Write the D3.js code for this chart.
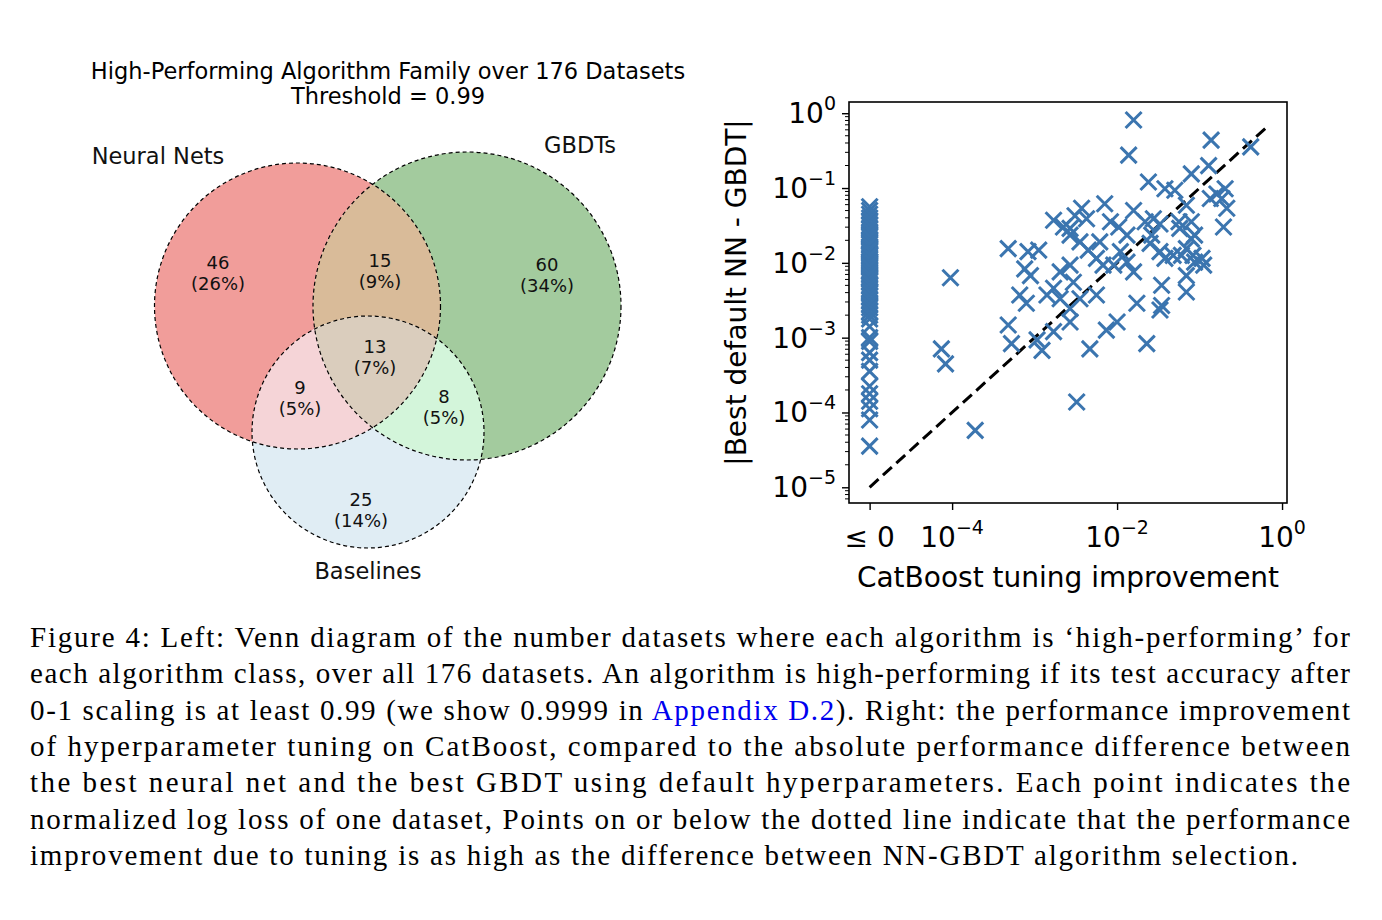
<!DOCTYPE html>
<html><head><meta charset="utf-8">
<script src="https://cdn.jsdelivr.net/npm/d3@7"></script>
<style>body{margin:0;background:#fff}</style>
</head><body>
<svg id="fig" width="1382" height="920"></svg>
<script>
// venn data
var vennSets = ["Neural Nets", "GBDTs", "Baselines"];
var vennRegions = ["100", "010", "001", "110", "101", "011", "111"];
var vennCounts = [46, 60, 25, 15, 9, 8, 13];
var vennPct = ["26%", "34%", "14%", "9%", "5%", "5%", "7%"];
var vennColors = ["#f19d9a", "#a3cb9e", "#e0edf4", "#d9bb99", "#f5d4d7", "#d3f5da", "#dacdbd"];

// scatter data: log10 values; x = -5 means "≤ 0"
var zeroColY = [-1.25,-1.3,-1.35,-1.4,-1.45,-1.5,-1.55,-1.6,-1.62,-1.65,-1.7,-1.72,-1.75,-1.8,-1.82,-1.85,-1.88,-1.9,-1.95,-1.98,-2.0,-2.02,-2.05,-2.1,-2.12,-2.15,-2.2,-2.22,-2.25,-2.3,-2.35,-2.38,-2.4,-2.45,-2.5,-2.55,-2.6,-2.65,-2.7,-2.75,-2.85,-3.0,-3.05,-3.2,-3.3,-3.45,-3.65,-3.75,-3.85,-3.95,-4.1,-4.45];
var tunedX = [-1.80,-1.86,-0.86,-0.38,-0.89,-1.10,-1.62,-1.42,-1.30,-0.69,-0.73,-0.87,-0.67,-0.71,-1.16,-1.10,-1.24,-1.10,-1.16,-1.08,-0.97,-0.95,-1.16,-1.16,-1.46,-1.46,-1.48,-1.76,-1.64,-2.00,-2.13,-2.33,-2.49,-3.72,-4.02,-4.13,-4.08,-3.32,-3.32,-3.28,-3.12,-3.05,-3.18,-3.10,-2.95,-2.97,-2.91,-2.77,-2.65,-2.57,-2.45,-2.43,-2.37,-2.15,-2.08,-1.98,-1.88,-1.80,-1.66,-1.58,-1.56,-1.60,-1.48,-1.42,-1.32,-2.35,-2.25,-2.17,-2.57,-2.69,-2.53,-2.77,-2.85,-2.69,-2.45,-2.25,-2.57,-2.57,-2.77,-2.04,-1.88,-1.80,-1.96,-2.21,-1.22,-1.06,-1.48,-1.25,-1.06,-2.51,-2.57,-0.79,-3.08];
var tunedY = [-0.09,-0.56,-0.36,-0.45,-0.70,-0.81,-0.92,-1.01,-1.03,-1.01,-1.14,-1.14,-1.27,-1.52,-1.23,-1.45,-1.54,-1.68,-1.81,-1.90,-1.94,-2.03,-2.17,-2.39,-2.30,-2.57,-2.63,-2.54,-3.08,-2.79,-2.90,-3.15,-3.86,-4.24,-2.20,-3.15,-3.35,-1.81,-2.83,-3.08,-2.08,-2.17,-2.43,-2.54,-1.83,-3.03,-3.17,-1.43,-1.52,-1.63,-1.72,-1.27,-1.41,-1.21,-1.45,-1.52,-1.63,-1.30,-1.45,-1.63,-1.41,-1.74,-1.85,-1.94,-1.90,-1.83,-1.94,-2.03,-2.03,-2.12,-2.26,-2.34,-2.43,-2.48,-2.48,-2.43,-2.61,-2.79,-2.92,-2.03,-1.99,-2.12,-1.85,-1.72,-1.90,-1.99,-1.48,-1.45,-1.63,-1.37,-1.54,-1.08,-1.85];
var xTicks = [-5, -4, -2, 0];
var yTicks = [0, -1, -2, -3, -4, -5];

var svg = d3.select("#fig");
var sans = "DejaVu Sans";

// ---------- Venn ----------
var circles = [{cx:297.5, cy:306, r:143}, {cx:467, cy:306, r:154}, {cx:368, cy:432, r:116}];
var labelPos = {"100":[218,269], "010":[547,271], "001":[361,506], "110":[380,267], "101":[300,394], "011":[444,403], "111":[375,353]};
var defs = svg.append("defs");
vennRegions.forEach(function(code, k){
  var clip = null;
  var ins = [], outs = [];
  code.split("").forEach(function(c, i){ (c == "1" ? ins : outs).push(i); });
  ins.forEach(function(i, j){
    if (j == 0) return;
    var id = "clip-" + code + "-" + j;
    var cp = defs.append("clipPath").attr("id", id);
    if (clip) cp.attr("clip-path", "url(#" + clip + ")");
    cp.append("circle").attr("cx", circles[i].cx).attr("cy", circles[i].cy).attr("r", circles[i].r);
    clip = id;
  });
  var mid = "mask-" + code;
  var m = defs.append("mask").attr("id", mid);
  m.append("rect").attr("width", 1382).attr("height", 920).attr("fill", "#fff");
  outs.forEach(function(i){
    m.append("circle").attr("cx", circles[i].cx).attr("cy", circles[i].cy).attr("r", circles[i].r).attr("fill", "#000");
  });
  var g = svg.append("g").attr("mask", "url(#" + mid + ")");
  if (clip) g.attr("clip-path", "url(#" + clip + ")");
  var c0 = circles[ins[0]];
  g.append("circle").attr("cx", c0.cx).attr("cy", c0.cy).attr("r", c0.r).attr("fill", vennColors[k]);
});
svg.selectAll(".vc").data(circles).enter().append("circle")
  .attr("cx", d => d.cx).attr("cy", d => d.cy).attr("r", d => d.r)
  .attr("fill", "none").attr("stroke", "#000").attr("stroke-width", 1.2).attr("stroke-dasharray", "4,3");
vennRegions.forEach(function(code, k){
  var p = labelPos[code];
  var t = svg.append("text").attr("x", p[0]).attr("y", p[1]).attr("text-anchor", "middle")
    .attr("font-family", sans).attr("font-size", 18).attr("fill", "#111");
  t.append("tspan").attr("x", p[0]).attr("dy", 0).text(vennCounts[k]);
  t.append("tspan").attr("x", p[0]).attr("dy", 21).text("(" + vennPct[k] + ")");
});
var setLab = [[158,164], [580,153], [368,579]];
vennSets.forEach(function(s, i){
  svg.append("text").attr("x", setLab[i][0]).attr("y", setLab[i][1]).attr("text-anchor", "middle")
    .attr("font-family", sans).attr("font-size", 22.5).attr("fill", "#111").text(s);
});
svg.append("text").attr("x", 388).attr("y", 79).attr("text-anchor", "middle").attr("font-family", sans)
  .attr("font-size", 22.5).text("High-Performing Algorithm Family over 176 Datasets");
svg.append("text").attr("x", 388).attr("y", 104).attr("text-anchor", "middle").attr("font-family", sans)
  .attr("font-size", 22.5).text("Threshold = 0.99");

// ---------- Scatter ----------
var L = 849, R = 1287, T = 102, B = 503;
var x = d3.scaleLinear().domain([-5.25, 0.06]).range([L, R]);
var y = d3.scaleLinear().domain([-5.21, 0.15]).range([B, T]);
var sg = svg.append("g");
sg.append("rect").attr("x", L).attr("y", T).attr("width", R - L).attr("height", B - T)
  .attr("fill", "none").attr("stroke", "#000").attr("stroke-width", 1.6);

var xa = sg.append("g").attr("transform", "translate(0," + B + ")")
  .call(d3.axisBottom(x).tickValues(xTicks).tickSize(7).tickFormat(""));
xa.select(".domain").remove();
xa.selectAll("line").attr("stroke-width", 1.4);
xTicks.forEach(function(v){
  var t = sg.append("text").attr("x", x(v)).attr("y", 547).attr("text-anchor", "middle")
    .attr("font-family", sans).attr("font-size", 28);
  if (v == -5) t.text("\u2264 0");
  else { t.append("tspan").text("10"); t.append("tspan").attr("dy", -13).attr("font-size", 19).text(v < 0 ? "\u2212" + (-v) : v); }
});
var ya = sg.append("g").attr("transform", "translate(" + L + ",0)")
  .call(d3.axisLeft(y).tickValues(yTicks).tickSize(7).tickFormat(""));
ya.select(".domain").remove();
ya.selectAll("line").attr("stroke-width", 1.4);
var minors = [];
yTicks.forEach(function(v){ for (var m = 2; m < 10; m++){ var lv = v - 1 + Math.log10(m); if (lv > -5.21) minors.push(lv); } });
sg.selectAll(".mn").data(minors).enter().append("line")
  .attr("x1", L - 4).attr("x2", L).attr("y1", d => y(d)).attr("y2", d => y(d)).attr("stroke", "#000").attr("stroke-width", 1);
yTicks.forEach(function(v){
  var t = sg.append("text").attr("x", 836).attr("y", y(v) + 10).attr("text-anchor", "end")
    .attr("font-family", sans).attr("font-size", 28);
  t.append("tspan").text("10");
  t.append("tspan").attr("dy", -13).attr("font-size", 19).text(v < 0 ? "\u2212" + (-v) : v);
});
sg.append("text").attr("transform", "translate(746," + ((T + B) / 2 - 10) + ") rotate(-90)").attr("text-anchor", "middle")
  .attr("font-family", sans).attr("font-size", 28).text("|Best default NN - GBDT|");
sg.append("text").attr("x", 1068).attr("y", 587).attr("text-anchor", "middle")
  .attr("font-family", sans).attr("font-size", 28).text("CatBoost tuning improvement");

sg.append("line").attr("x1", x(-5)).attr("y1", y(-5)).attr("x2", x(-0.17)).attr("y2", y(-0.17))
  .attr("stroke", "#000").attr("stroke-width", 3).attr("stroke-dasharray", "12,6");

var pts = zeroColY.map(v => [-5, v]).concat(tunedX.map((v, i) => [v, tunedY[i]]));
var s = 8;
sg.selectAll(".pt").data(pts).enter().append("path")
  .attr("d", d => { var px = x(d[0]), py = y(d[1]);
    return "M" + (px - s) + "," + (py - s) + "L" + (px + s) + "," + (py + s) + "M" + (px - s) + "," + (py + s) + "L" + (px + s) + "," + (py - s); })
  .attr("stroke", "#3b75af").attr("stroke-width", 3).attr("fill", "none");

// ---------- caption ----------
var capLines = [
  ["Figure 4: Left: Venn diagram of the number datasets where each algorithm is \u2018high-performing\u2019 for", 1320],
  ["each algorithm class, over all 176 datasets. An algorithm is high-performing if its test accuracy after", 1320],
  ["APPX", 1320],
  ["of hyperparameter tuning on CatBoost, compared to the absolute performance difference between", 1320],
  ["the best neural net and the best GBDT using default hyperparameters.  Each point indicates the", 1320],
  ["normalized log loss of one dataset, Points on or below the dotted line indicate that the performance", 1320],
  ["improvement due to tuning is as high as the difference between NN-GBDT algorithm selection.", 1268]
];
capLines.forEach(function(l, i){
  var t = svg.append("text").attr("x", 30).attr("y", 647 + i * 36.3)
    .attr("font-family", "Liberation Serif").attr("font-size", 29).attr("fill", "#000");
  if (l[0] == "APPX") {
    t.append("tspan").text("0-1 scaling is at least 0.99 (we show 0.9999 in ");
    t.append("tspan").attr("fill", "#0000ee").text("Appendix D.2");
    t.append("tspan").text("). Right: the performance improvement");
  } else t.text(l[0]);
  t.attr("textLength", l[1]).attr("lengthAdjust", "spacing");
});
</script>
</body></html>
